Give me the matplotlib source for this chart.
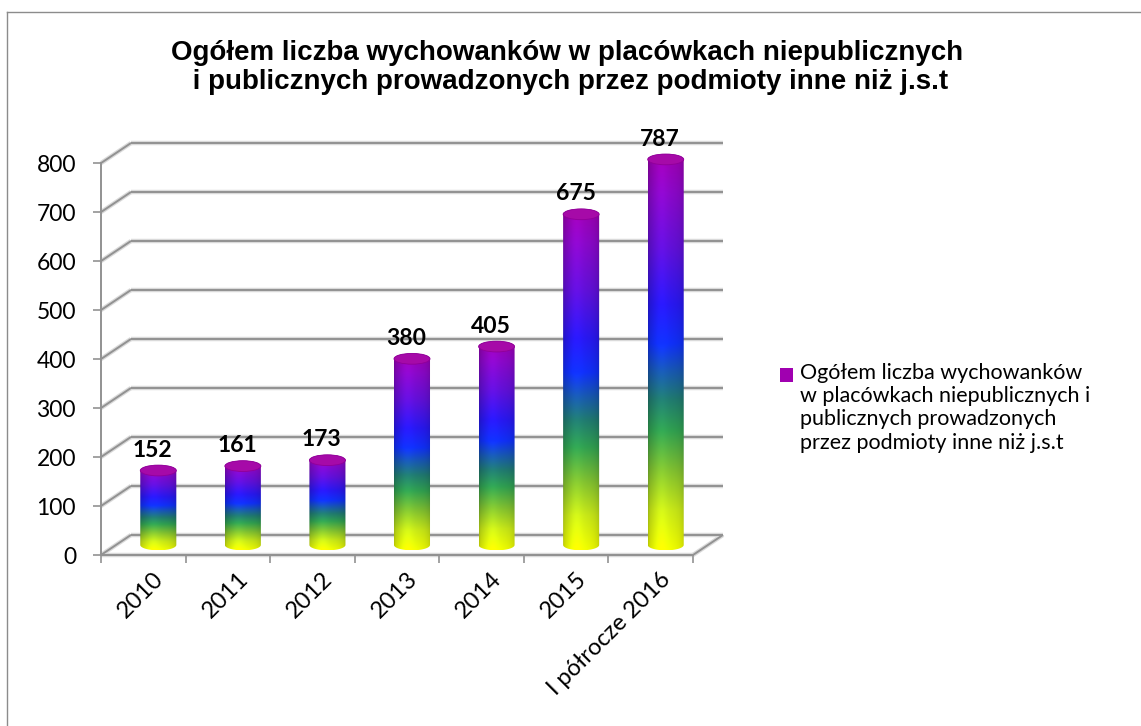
import numpy as np
import matplotlib.pyplot as plt
from matplotlib.colors import LinearSegmentedColormap
from matplotlib.patches import Ellipse, Polygon, Rectangle
from matplotlib.lines import Line2D

# data
categories = ['2010', '2011', '2012', '2013', '2014', '2015', 'I półrocze 2016']
values = [152, 161, 173, 380, 405, 675, 787]
yticks = [0, 100, 200, 300, 400, 500, 600, 700, 800]
title = ('Ogółem liczba wychowanków w placówkach niepublicznych\n'
         ' i publicznych prowadzonych przez podmioty inne niż j.s.t')
legend_label = ('Ogółem liczba wychowanków\nw placówkach niepublicznych i\n'
                'publicznych prowadzonych\nprzez podmioty inne niż j.s.t')

W, H = 1141, 726
fig = plt.figure(figsize=(W / 100, H / 100), dpi=100)

# 3d-ish box: depth offset in data units
dx = 0.355
dy = 41
ymax = 800 + dy
ax = fig.add_axes([101 / W, (H - 555) / H, 622 / W, 412 / H])
ax.patch.set_alpha(0)

grid_c = '#929292'
shadow_c = '#dadada'

def gline(xs, ys):
    ax.plot(xs, ys, color=shadow_c, lw=3.2, solid_capstyle='butt', zorder=1, clip_on=False)
    ax.plot(xs, ys, color=grid_c, lw=1.4, solid_capstyle='butt', zorder=2, clip_on=False)

x0, x1 = -0.5, len(categories) - 0.5
for t in yticks:
    gline([x0 + dx, x1 + dx], [t + dy, t + dy])
    gline([x0, x0 + dx], [t, t + dy])
# floor front + right edge
gline([x0, x1], [0, 0])
gline([x1, x1 + dx], [0, dy])

for s in ['top', 'right']:
    ax.spines[s].set_visible(False)
for s in ['left', 'bottom']:
    ax.spines[s].set_color(grid_c)
    ax.spines[s].set_linewidth(1.4)
ax.spines['left'].set_bounds(0, 800)
ax.spines['bottom'].set_bounds(x0, x1)
ax.set_yticks(yticks)
ax.tick_params(axis='y', length=6, width=1.2, color=grid_c, pad=12,
               labelsize=16.5, labelcolor='black')
for lab in ax.get_yticklabels():
    lab.set_family('Lato')
ax.set_xticks(np.arange(x0, x1 + 0.01, 1.0))
ax.set_xticklabels([])
ax.tick_params(axis='x', length=6, width=1.2, color=grid_c)

for i, c in enumerate(categories):
    ax.annotate(c, xy=(i + 0.2, 0), xytext=(0, -15), textcoords='offset points',
                rotation=45, rotation_mode='anchor', ha='right', va='center',
                fontsize=17, family='Lato', annotation_clip=False)

# cylinder gradient
grad = LinearSegmentedColormap.from_list('cyl', [
    (0.0, '#f2ff00'), (0.1, '#c8e818'), (0.2, '#80c030'), (0.3, '#30a050'),
    (0.38, '#207a70'), (0.45, '#1858b0'), (0.52, '#1030f8'), (0.62, '#2818f0'),
    (0.76, '#6010d8'), (0.9, '#8a08c8'), (1.0, '#a000b0')])
nv, nh = 256, 64
u = np.linspace(-1, 1, nh)
shade = 0.78 + 0.22 * np.sqrt(1 - u ** 2)
shade = shade * (1 + 0.08 * np.exp(-((u + 0.3) / 0.35) ** 2))
rows = grad(np.linspace(0, 1, nv))[:, :3]
img = np.clip(rows[:, None, :] * shade[None, :, None], 0, 1)

bw = 0.213
eh = 11
base = dy / 2
for i, v in enumerate(values):
    xc = i + dx / 2
    top = base + v
    th = np.linspace(np.pi, 2 * np.pi, 40)
    lower = np.c_[xc + bw * np.cos(th), base + eh * np.sin(th)]
    th2 = np.linspace(0, np.pi, 40)
    upper = np.c_[xc + bw * np.cos(th2), top + eh * np.sin(th2)]
    outline = np.vstack([lower, upper])
    clip = Polygon(outline, closed=True, transform=ax.transData, facecolor='none', edgecolor='none')
    ax.add_patch(clip)
    im = ax.imshow(img, extent=[xc - bw, xc + bw, base - eh, top + eh], origin='lower',
                   aspect='auto', zorder=3, interpolation='bilinear')
    im.set_clip_path(clip)
    ax.add_patch(Ellipse((xc, top), 2 * bw, 2 * eh, facecolor='#a60aa8',
                         edgecolor='#900098', lw=0.6, zorder=4))
    ax.annotate(str(v), xy=(xc, top), xytext=(-4, 10), textcoords='offset points',
                ha='center', va='baseline', fontsize=16.5, fontweight='bold',
                family='Lato', zorder=5)

ax.set_xlim(-0.5, len(categories) - 0.5 + dx)
ax.set_ylim(0, ymax)

fig.text(567 / W, 1 - 40 / H, title, ha='center', va='top', fontsize=20,
         fontweight='bold', family='Liberation Sans', linespacing=1.15)

# legend
fig.add_artist(Rectangle((780 / W, 1 - 382 / H), 13 / W, 14 / H,
                         transform=fig.transFigure, facecolor='#a000b0', edgecolor='none'))
fig.text(800 / W, 1 - 363 / H, legend_label, ha='left', va='top', fontsize=15.5,
         family='Lato', linespacing=1.2)

# outer border
fig.add_artist(Line2D([7 / W, 1], [1 - 12 / H, 1 - 12 / H], transform=fig.transFigure,
                      color='#8c8c8c', lw=1))
fig.add_artist(Line2D([7 / W, 7 / W], [0, 1 - 12 / H], transform=fig.transFigure,
                      color='#8c8c8c', lw=1))

fig.savefig('out.png', dpi=100)
